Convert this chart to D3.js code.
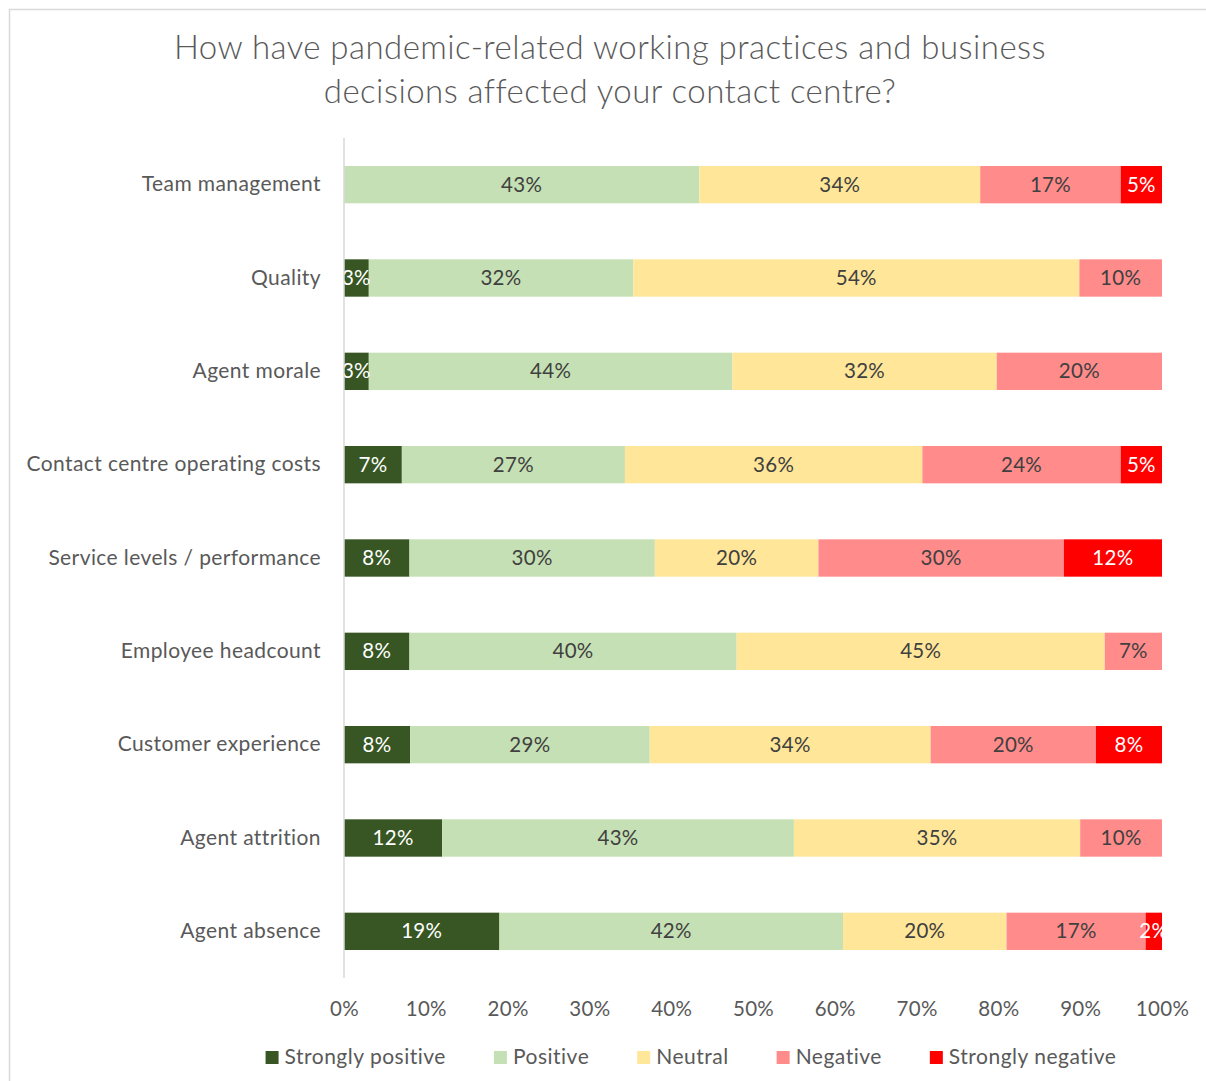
<!DOCTYPE html>
<html>
<head>
<meta charset="utf-8">
<script src="https://cdn.jsdelivr.net/npm/d3@7"></script>
<style>
  html, body { margin: 0; padding: 0; background: #fff; }
  svg { display: block; font-family: Lato, "Open Sans", sans-serif; }
</style>
</head>
<body>
<svg id="chart" width="1206" height="1081"></svg>
<script>
// Survey responses, one row per aspect of the contact centre (top to bottom)
const categories = [
  "Team management",
  "Quality",
  "Agent morale",
  "Contact centre operating costs",
  "Service levels / performance",
  "Employee headcount",
  "Customer experience",
  "Agent attrition",
  "Agent absence"
];
const seriesNames = ["Strongly positive", "Positive", "Neutral", "Negative", "Strongly negative"];
const stronglyPositive = [0, 3, 3, 7, 8, 8, 8, 12, 19];
const positive         = [43, 32, 44, 27, 30, 40, 29, 43, 42];
const neutral          = [34, 54, 32, 36, 20, 45, 34, 35, 20];
const negative         = [17, 10, 20, 24, 30, 7, 20, 10, 17];
const stronglyNegative = [5, 0, 0, 5, 12, 0, 8, 0, 2];
const tickValues = [0, 0.1, 0.2, 0.3, 0.4, 0.5, 0.6, 0.7, 0.8, 0.9, 1];
const titleLines = [
  "How have pandemic-related working practices and business",
  "decisions affected your contact centre?"
];

const colors = ["#375623", "#C5E0B4", "#FFE699", "#FF8B8B", "#FF0000"];
const labelColors = ["#ffffff", "#404040", "#404040", "#404040", "#ffffff"];

const rows = categories.map((c, i) => ({
  category: c,
  "Strongly positive": stronglyPositive[i],
  "Positive": positive[i],
  "Neutral": neutral[i],
  "Negative": negative[i],
  "Strongly negative": stronglyNegative[i]
}));

const svg = d3.select("#chart");
const W = 1206, H = 1081;
const margin = { left: 344, right: 44, top: 138, bottom: 103 };

// chart frame
svg.append("rect")
  .attr("x", 9.5).attr("y", 9.5)
  .attr("width", W + 20).attr("height", H + 20)
  .attr("fill", "none").attr("stroke", "#d9d9d9").attr("stroke-width", 1.5);

// title
svg.append("g").selectAll("text").data(titleLines).join("text")
  .attr("x", 610).attr("y", (d, i) => 59 + i * 44)
  .attr("text-anchor", "middle")
  .attr("font-size", 33).attr("font-weight", 300)
  .attr("letter-spacing", 0.45)
  .attr("fill", "#595959")
  .text(d => d);

const x = d3.scaleLinear().domain([0, 1]).range([margin.left, W - margin.right]);
const y = d3.scaleBand().domain(categories)
  .range([margin.top, H - margin.bottom]).paddingInner(0.6).paddingOuter(0.3);

const stack = d3.stack().keys(seriesNames).offset(d3.stackOffsetExpand);
const layers = stack(rows);

// bars
const layerG = svg.append("g").selectAll("g").data(layers).join("g")
  .attr("fill", (d, i) => colors[i]);
layerG.selectAll("rect").data(d => d.map(s => ({ s, key: d.key })))
  .join("rect")
  .attr("x", d => x(d.s[0]))
  .attr("width", d => Math.max(0, x(d.s[1]) - x(d.s[0])))
  .attr("y", d => y(d.s.data.category))
  .attr("height", y.bandwidth());

// value labels
const labelG = svg.append("g").selectAll("g").data(layers).join("g")
  .attr("fill", (d, i) => labelColors[i]);
labelG.selectAll("text").data(d => d.map(s => ({ s, key: d.key })).filter(d => d.s.data[d.key] > 0))
  .join("text")
  .attr("x", d => (x(d.s[0]) + x(d.s[1])) / 2)
  .attr("y", d => y(d.s.data.category) + y.bandwidth() / 2 + 7)
  .attr("text-anchor", "middle")
  .attr("font-size", 20.5).attr("letter-spacing", 0.3)
  .text(d => d.s.data[d.key] + "%");

// category axis
const yAxis = svg.append("g").attr("transform", `translate(${margin.left},0)`)
  .call(d3.axisLeft(y).tickSize(0).tickPadding(23));
yAxis.select(".domain").attr("stroke", "#d9d9d9").attr("stroke-width", 1.5)
  .attr("d", `M0,${margin.top}V${H - margin.bottom}`);
yAxis.selectAll("text").attr("font-size", 21).attr("letter-spacing", 0.4)
  .attr("fill", "#595959")
  .attr("font-family", "Lato, 'Open Sans', sans-serif");

// percentage axis
const xAxis = svg.append("g").attr("transform", `translate(0,${H - margin.bottom})`)
  .call(d3.axisBottom(x).tickValues(tickValues).tickFormat(d3.format(".0%")).tickSize(0).tickPadding(23));
xAxis.select(".domain").remove();
xAxis.selectAll("text").attr("font-size", 20.5).attr("letter-spacing", 0.3)
  .attr("fill", "#595959")
  .attr("font-family", "Lato, 'Open Sans', sans-serif");

// legend
const legend = svg.append("g");
const items = legend.selectAll("g").data(seriesNames).join("g");
items.append("rect").attr("width", 13).attr("height", 13).attr("y", -13)
  .attr("fill", (d, i) => colors[i]);
items.append("text").attr("x", 19).attr("y", 0)
  .attr("font-size", 21).attr("letter-spacing", 0.5)
  .attr("fill", "#595959").text(d => d);
let cx = 0;
const offsets = [];
items.each(function () {
  offsets.push(cx);
  cx += 19 + this.querySelector("text").getComputedTextLength() + 48;
});
const total = cx - 48;
const startX = 691 - total / 2;
items.attr("transform", (d, i) => `translate(${startX + offsets[i]},1064)`);
</script>
</body>
</html>
